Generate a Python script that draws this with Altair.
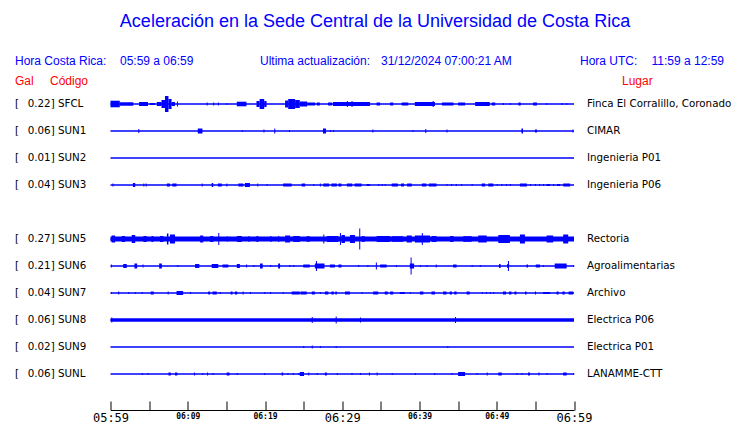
import altair as alt
import pandas as pd

# ---------------- data ----------------
codes = ["SFCL", "SUN1", "SUN2", "SUN3", "SUN5", "SUN6", "SUN7", "SUN8", "SUN9", "SUNL"]
rows = [0, 1, 2, 3, 5, 6, 7, 8, 9, 10]          # trace slot (slot 4 is empty)
gal = ["0.22", "0.06", "0.01", "0.04", "0.27", "0.21", "0.04", "0.06", "0.02", "0.06"]
places = ["Finca El Corralillo, Coronado", "CIMAR", "Ingenieria P01", "Ingenieria P06",
          "Rectoria", "Agroalimentarias", "Archivo", "Electrica P06", "Electrica P01",
          "LANAMME-CTT"]
tick_minutes = list(range(0, 61, 5))            # minutes after 05:59
start_hhmm = (5, 59)

# bursts of each trace: (start minute, end minute, half amplitude in display px)
sfcl = [(0.0, 1.2, 3.3), (1.2, 2.95, 1.7), (3.7, 4.85, 2.0), (5.1, 5.75, 1.0),
        (6.0, 6.6, 2.0), (6.6, 7.05, 4.0), (7.05, 7.5, 8.0), (7.5, 7.9, 5.0), (7.9, 8.35, 2.0),
        (8.6, 8.6, 2.5), (12.45, 12.45, 1.5), (13.3, 13.3, 1.5), (13.9, 13.9, 1.5), (15.0, 15.0, 1.0),
        (16.35, 17.6, 2.3), (18.9, 19.3, 3.0), (19.3, 19.9, 5.0), (19.9, 20.2, 3.0),
        (22.6, 23.0, 3.5), (23.0, 23.9, 5.0), (23.9, 24.5, 4.0), (24.5, 25.45, 2.5), (25.45, 26.5, 1.5),
        (26.7, 27.1, 1.5), (28.15, 28.7, 1.5), (28.8, 33.6, 2.0), (30.6, 30.6, 3.0), (31.2, 31.2, 3.0),
        (34.45, 34.9, 1.5), (36.2, 36.6, 1.5), (37.7, 38.55, 1.5), (39.4, 42.0, 2.0), (41.7, 41.7, 3.0),
        (42.9, 44.4, 1.5), (45.0, 45.9, 1.5), (47.2, 49.1, 2.0), (49.35, 49.8, 1.5), (50.8, 50.8, 1.0),
        (51.7, 51.7, 1.0), (52.8, 53.1, 1.5), (54.7, 55.2, 1.5), (56.4, 56.4, 1.0), (58.4, 58.4, 1.0),
        (59.0, 59.0, 1.0)]
sun1 = [(3.6, 3.6, 2.0), (11.3, 11.9, 2.5), (17.0, 17.0, 1.0), (19.8, 19.8, 1.5), (21.2, 21.2, 2.5),
        (23.1, 23.1, 1.0), (27.5, 27.9, 2.5), (28.4, 28.4, 1.0), (28.8, 28.8, 1.0), (33.9, 33.9, 1.5),
        (39.1, 39.1, 1.0), (40.75, 40.75, 2.0), (43.5, 43.5, 1.5), (53.2, 53.4, 2.5), (54.95, 55.2, 1.5),
        (59.8, 59.8, 1.5)]
sun2 = []
sun3 = [(0.25, 0.25, 1.5), (2.9, 3.2, 2.0), (4.25, 4.25, 1.5), (4.55, 4.55, 1.5), (7.3, 7.7, 1.5),
        (8.0, 8.55, 1.5), (11.8, 11.8, 1.5), (13.1, 13.3, 2.0), (13.9, 14.4, 1.5), (15.0, 15.0, 1.5),
        (16.55, 17.2, 1.5), (17.4, 18.05, 2.0), (19.0, 19.0, 1.5), (20.2, 20.2, 1.0), (22.35, 23.45, 1.5),
        (24.75, 25.2, 1.5), (26.25, 26.25, 1.0), (27.1, 27.1, 1.5), (27.55, 28.3, 1.5), (28.6, 29.3, 1.5),
        (29.5, 29.9, 1.5), (30.6, 31.3, 1.5), (31.6, 32.5, 1.5), (33.15, 33.6, 1.0), (34.65, 34.65, 1.0),
        (35.1, 35.1, 1.0), (35.5, 35.5, 1.0), (36.4, 37.2, 1.5), (37.6, 38.0, 1.5), (38.4, 39.0, 1.5),
        (40.3, 40.9, 1.5), (41.2, 42.2, 1.5), (43.5, 43.5, 1.0), (44.1, 44.1, 1.0), (44.7, 44.7, 1.0),
        (45.4, 45.4, 1.0), (46.75, 46.75, 1.0), (48.05, 48.5, 1.5), (48.9, 49.55, 1.5), (50.0, 50.0, 1.0),
        (50.6, 50.6, 1.0), (51.2, 51.2, 1.0), (51.7, 51.7, 1.0), (53.0, 53.9, 1.5), (54.3, 54.3, 1.0),
        (54.95, 54.95, 1.0), (55.5, 55.5, 1.0), (56.0, 56.0, 1.0), (56.45, 56.9, 1.0), (57.3, 57.3, 1.0),
        (57.8, 58.2, 1.0), (58.6, 59.5, 1.5)]
sun5 = [(0.0, 60.0, 2.4),
        (0.15, 0.6, 3.5), (1.45, 1.9, 3.0), (2.75, 3.2, 4.0), (4.25, 4.7, 3.0), (5.3, 5.55, 3.0),
        (6.4, 6.85, 3.0), (7.3, 7.5, 5.5), (7.7, 8.35, 4.5), (11.6, 12.0, 3.5), (12.9, 13.3, 3.0),
        (13.95, 13.95, 6.0), (15.05, 15.05, 2.8), (16.35, 17.0, 3.0), (17.85, 17.85, 3.0),
        (18.9, 19.15, 3.0), (20.65, 20.85, 2.8), (21.7, 21.7, 3.0), (22.6, 23.25, 3.5), (23.65, 24.5, 3.0),
        (25.4, 25.8, 2.8), (27.55, 27.55, 4.5), (28.0, 29.5, 3.0), (29.7, 29.7, 6.0), (29.9, 30.35, 4.0),
        (31.0, 31.65, 4.0), (32.2, 32.2, 10.5), (32.5, 32.95, 2.8), (34.45, 36.2, 3.0), (36.4, 37.9, 2.8),
        (38.35, 39.0, 3.5), (39.4, 41.35, 3.5), (40.3, 40.3, 6.0), (41.55, 42.2, 3.0), (43.95, 44.4, 3.0),
        (45.65, 46.75, 2.8), (47.6, 48.7, 3.5), (50.2, 51.7, 4.0), (53.0, 53.65, 4.5), (56.45, 57.3, 3.5),
        (58.6, 59.25, 4.5)]
sun6 = [(0.05, 0.05, 1.5), (1.65, 2.1, 2.0), (3.1, 3.45, 2.5), (4.15, 4.15, 1.5), (6.3, 6.65, 2.5),
        (8.65, 8.65, 1.0), (10.95, 11.5, 2.0), (13.1, 13.95, 2.0), (14.5, 15.25, 1.5), (16.35, 16.75, 2.0),
        (17.55, 17.55, 1.5), (18.5, 18.5, 1.0), (19.35, 19.7, 2.5), (20.65, 20.65, 1.0), (21.7, 21.95, 2.5),
        (23.15, 23.15, 1.0), (23.65, 23.65, 1.0), (24.95, 25.8, 1.5), (26.45, 27.7, 2.5), (26.6, 26.6, 5.0),
        (28.4, 29.05, 1.5), (29.5, 29.9, 1.5), (32.05, 32.05, 1.0), (33.25, 33.25, 1.0), (34.35, 34.35, 3.5),
        (34.9, 35.75, 1.5), (36.95, 36.95, 1.0), (38.75, 39.3, 2.5), (38.85, 38.85, 8.5), (40.05, 40.05, 1.0),
        (40.9, 40.9, 1.0), (42.1, 42.1, 1.5), (44.35, 44.8, 1.5), (46.75, 46.75, 1.0), (47.8, 47.8, 1.0),
        (50.3, 50.5, 2.0), (51.35, 51.6, 2.0), (51.45, 51.45, 5.0), (53.85, 54.05, 1.5), (55.05, 55.6, 1.5),
        (56.0, 56.0, 1.0), (57.5, 59.05, 2.5), (59.9, 59.9, 1.0)]
sun7 = [(0.05, 0.05, 1.0), (1.0, 1.0, 1.5), (2.3, 2.3, 1.0), (3.15, 3.15, 1.0), (4.05, 4.05, 1.0),
        (5.2, 5.6, 1.5), (7.4, 7.4, 1.5), (8.55, 9.4, 2.0), (10.3, 10.3, 1.0), (12.65, 12.9, 1.5),
        (13.2, 13.75, 1.5), (14.15, 14.15, 1.0), (15.55, 15.8, 1.5), (16.1, 16.4, 1.5), (17.1, 17.1, 1.5),
        (18.05, 18.05, 1.0), (19.9, 19.9, 1.0), (20.65, 20.65, 1.0), (22.3, 22.3, 1.0), (23.45, 24.5, 1.5),
        (24.6, 25.4, 1.5), (26.05, 26.45, 1.5), (27.1, 27.1, 1.0), (27.75, 28.2, 1.5), (28.6, 28.9, 1.5),
        (29.1, 29.3, 1.5), (30.35, 31.0, 1.5), (32.5, 32.5, 1.0), (34.0, 34.65, 1.5), (35.5, 35.9, 1.5),
        (36.2, 36.6, 1.5), (37.45, 38.1, 1.0), (38.75, 38.75, 1.0), (40.05, 40.5, 1.5), (41.55, 42.0, 1.5),
        (43.05, 43.5, 1.5), (43.9, 44.2, 1.5), (44.5, 44.8, 1.5), (46.1, 46.5, 1.5), (48.05, 48.05, 1.0),
        (48.6, 48.6, 1.0), (49.1, 49.1, 1.0), (49.55, 49.55, 1.0), (50.8, 51.2, 1.5), (51.6, 51.9, 1.5),
        (52.3, 52.55, 1.5), (53.65, 53.85, 1.5), (54.95, 54.95, 1.5), (56.0, 56.9, 1.0), (57.75, 58.0, 1.5),
        (58.5, 58.8, 1.5), (59.3, 59.9, 1.5)]
sun8 = [(0.0, 60.0, 1.8), (0.1, 0.1, 2.5), (26.05, 26.05, 3.0), (29.15, 29.15, 3.5),
        (32.3, 32.3, 2.5), (44.6, 44.6, 3.0)]
sun9 = [(24.95, 24.95, 1.0), (26.05, 26.05, 1.5), (27.1, 27.1, 1.0), (29.15, 29.15, 1.0), (43.6, 43.6, 1.0)]
sunl = [(4.05, 4.05, 1.0), (4.8, 4.8, 1.0), (7.5, 7.8, 1.5), (8.35, 8.65, 1.5), (10.8, 10.8, 1.5),
        (11.9, 11.9, 1.0), (12.5, 12.5, 1.5), (13.2, 13.2, 1.0), (15.05, 15.4, 1.5), (16.35, 16.35, 1.0),
        (19.9, 19.9, 1.0), (22.15, 22.35, 1.5), (22.9, 22.9, 1.0), (23.6, 23.6, 1.0), (24.3, 24.3, 1.0),
        (24.5, 25.05, 2.0), (25.6, 25.6, 1.5), (26.7, 26.7, 1.0), (27.75, 28.0, 1.5), (29.3, 29.3, 1.0),
        (31.2, 31.2, 1.0), (32.3, 32.3, 1.0), (33.45, 33.45, 1.5), (34.45, 34.45, 1.5), (36.4, 36.4, 1.0),
        (39.4, 39.4, 1.0), (41.9, 41.9, 1.0), (44.15, 44.15, 1.0), (45.0, 45.9, 2.0), (47.4, 47.4, 1.0),
        (48.7, 48.7, 1.5), (50.2, 50.65, 1.5), (52.55, 52.55, 1.0), (53.2, 53.2, 1.0), (54.05, 54.3, 1.5),
        (55.4, 55.4, 1.5), (56.45, 56.45, 1.0), (58.6, 59.05, 1.5), (59.9, 59.9, 1.0)]

bursts = [sfcl, sun1, sun2, sun3, sun5, sun6, sun7, sun8, sun9, sunl]

# ---------------- layout ----------------
W, H = 463.5, 319
Y_TOP, Y_BOT = -13 / 27, 306 / 27           # slot domain shown in the plot
PX_PER_SLOT = H / (Y_BOT - Y_TOP)
MIN_W = 60 / W                               # one pixel in minutes
BLUE = "#0000ff"
RED = "#ff0000"
SANS = "Liberation Sans"
DV = "DejaVu Sans"

stations = pd.DataFrame({"code": codes, "row": rows, "gal": gal, "place": places,
                         "t_start": 0.0, "t_end": 60.0})
stations["lab"] = stations["gal"] + "] " + stations["code"]
recs = []
for code, row, bl in zip(codes, rows, bursts):
    for t0, t1, a in bl:
        recs.append({"code": code, "t0": t0, "t1": max(t1, t0 + MIN_W),
                     "lo": row - a / PX_PER_SLOT, "hi": row + a / PX_PER_SLOT})
burst_df = pd.DataFrame(recs)

xs = alt.Scale(domain=[0, 60], nice=False, zero=False)
ys = alt.Scale(domain=[Y_TOP, Y_BOT], reverse=True, nice=False, zero=False)

start_min = start_hhmm[0] * 60 + start_hhmm[1]
label_expr = (f"datum.value % 10 == 0 ? format(floor(({start_min} + datum.value) / 60), '02d') + ':' + "
              f"format(({start_min} + datum.value) % 60, '02d') : ''")

bottom_axis = alt.Axis(orient="bottom", values=tick_minutes, ticks=False, tickSize=0, domain=True,
                       domainColor="black", domainWidth=1, grid=False, title=None,
                       labelExpr=label_expr, labelFont="DejaVu Sans Mono", labelColor="black",
                       labelFontSize={"condition": {"test": "datum.value % 30 == 0", "value": 12}, "value": 8},
                       labelFontWeight={"condition": {"test": "datum.value % 30 == 0", "value": "normal"},
                                        "value": "bold"},
                       labelPadding=2, labelFlush=False, labelOverlap=False)
top_axis = alt.Axis(orient="top", values=tick_minutes, ticks=True, tickSize=9, tickColor="black",
                    tickWidth=1, domain=False, labels=False, grid=False, title=None, offset=-H)

baselines = alt.Chart(stations).mark_rule(color=BLUE, strokeWidth=1.4).encode(
    x=alt.X("t_start:Q", scale=xs, axis=bottom_axis), x2="t_end:Q",
    y=alt.Y("row:Q", scale=ys, axis=None))

traces = alt.Chart(burst_df).mark_rect(color=BLUE).encode(
    x=alt.X("t0:Q", scale=xs, axis=top_axis), x2="t1:Q",
    y=alt.Y("lo:Q", scale=ys, axis=None), y2="hi:Q")

bracket = alt.Chart(stations).mark_text(text="[", align="left", baseline="middle", font=DV,
                                        fontSize=10.3, color="black").encode(
    x=alt.value(-95.5), y=alt.Y("row:Q", scale=ys, axis=None))
left_lab = alt.Chart(stations).mark_text(align="left", baseline="middle", font=DV, fontSize=10.3,
                                         color="black").encode(
    x=alt.value(-82.8), y=alt.Y("row:Q", scale=ys, axis=None), text="lab:N")
right_lab = alt.Chart(stations).mark_text(align="left", baseline="middle", font=DV, fontSize=10.3,
                                          color="black").encode(
    x=alt.value(476.5), y=alt.Y("row:Q", scale=ys, axis=None), text="place:N")

one = pd.DataFrame({"_": [0]})


def note(txt, x, y, size=12, color=BLUE, align="left"):
    return alt.Chart(one).mark_text(text=txt, align=align, baseline="middle", font=SANS,
                                    fontSize=size, color=color).encode(
        x=alt.value(x), y=alt.value(y))


header = [
    note("Aceleración en la Sede Central de la Universidad de Costa Rica", 264.5, -69, size=18,
         align="center"),
    note("Hora Costa Rica:", -95.5, -30),
    note("05:59 a 06:59", 9.5, -30),
    note("Ultima actualización:", 149.5, -30),
    note("31/12/2024 07:00:21 AM", 270.5, -30),
    note("Hora UTC:", 469.5, -30),
    note("11:59 a 12:59", 613.5, -30, align="right"),
    note("Gal", -95.5, -10, color=RED),
    note("Código", -60.5, -10, color=RED),
    note("Lugar", 511.5, -10, color=RED),
]

chart = alt.layer(baselines, traces, bracket, left_lab, right_lab, *header).resolve_axis(
    x="independent").properties(
    width=W, height=H,
    autosize=alt.AutoSizeParams(type="none"),
    padding={"left": 102.5, "top": 83, "right": 158, "bottom": 13},
    background="white",
).configure_view(strokeWidth=0)

chart.save("out.html", embed_options={"renderer": "svg", "actions": False})
